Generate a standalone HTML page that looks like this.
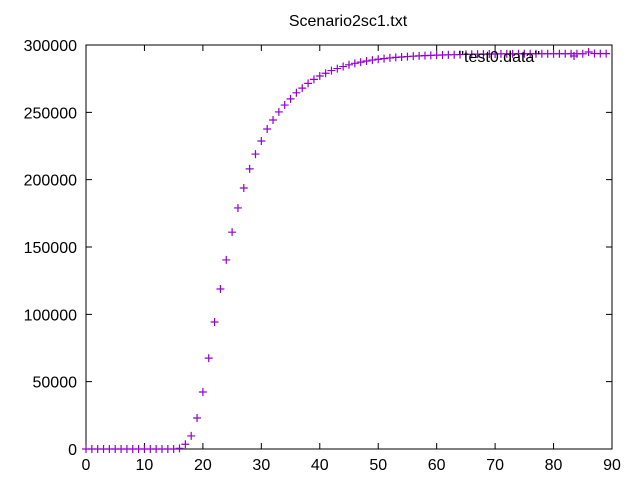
<!DOCTYPE html>
<html><head><meta charset="utf-8"><style>
body{margin:0;background:#fff}
svg{display:block;font-family:"Liberation Sans",sans-serif}
</style></head><body>
<svg id="chart" width="640" height="480">
<text x="348" y="26" font-size="16" text-anchor="middle">Scenario2sc1.txt</text>
<rect x="86" y="45" width="526" height="404" fill="none" stroke="#000" stroke-width="1"/>
<g id="axes"></g>
<g id="marks"></g>
<g>
<text x="540" y="62" font-size="16" text-anchor="end">"test0.data"</text>
<path d="M570 56h8M574 52v8" stroke="#9400d3" stroke-width="1.2"/>
</g>
</svg>
<script>
const xTicks=[0,10,20,30,40,50,60,70,80,90];
const yTicks=[0,50000,100000,150000,200000,250000,300000];
const xs=[];for(let i=0;i<=89;i++)xs.push(i);
const ys=[0,0,0,0,0,0,0,0,0,0,0,0,0,0,0,0,500,3500,9700,23000,42300,67500,94300,118800,140400,161000,179000,193800,208000,219000,228700,237600,244300,250300,255400,260000,264500,268000,271500,274500,277000,279000,281000,282500,284000,285300,286400,287300,288100,288800,289400,289900,290400,290800,291100,291400,291700,291900,292100,292300,292500,292600,292700,292800,292900,293000,293100,293200,293200,293300,293300,293400,293400,293400,293500,293500,293500,293500,293500,293500,293500,293500,293500,293500,293500,293500,294800,293700,293600,293600];
const X=v=>86+v*(526/90), Y=v=>449-v*(404/300000);
const NS="http://www.w3.org/2000/svg";
const axes=document.getElementById('axes'), marks=document.getElementById('marks');
function mk(tag,attrs,parent){const e=document.createElementNS(NS,tag);for(const k in attrs)e.setAttribute(k,attrs[k]);parent.appendChild(e);return e;}
xTicks.forEach(t=>{
 const x=X(t);
 const p=mk('path',{d:`M${x} 449v-6M${x} 45v6`,stroke:'#000'},axes);
 
 
 const l=mk('text',{x:x,y:470,'font-size':16,'text-anchor':'middle'},axes);l.textContent=t;
 
 
});
yTicks.forEach(t=>{
 const y=Y(t);
 const p=mk('path',{d:`M86 ${y}h6M612 ${y}h-6`,stroke:'#000'},axes);
 
 
 const l=mk('text',{x:77,y:y+6,'font-size':16,'text-anchor':'end'},axes);l.textContent=t;
 
 
});
xs.forEach((v,i)=>{
 const x=X(v),y=Y(ys[i]);
 const p=mk('path',{d:`M${x-4} ${y}h8M${x} ${y-4}v8`,stroke:'#9400d3','stroke-width':1.2},marks);
 
 
});
</script>
</body></html>
